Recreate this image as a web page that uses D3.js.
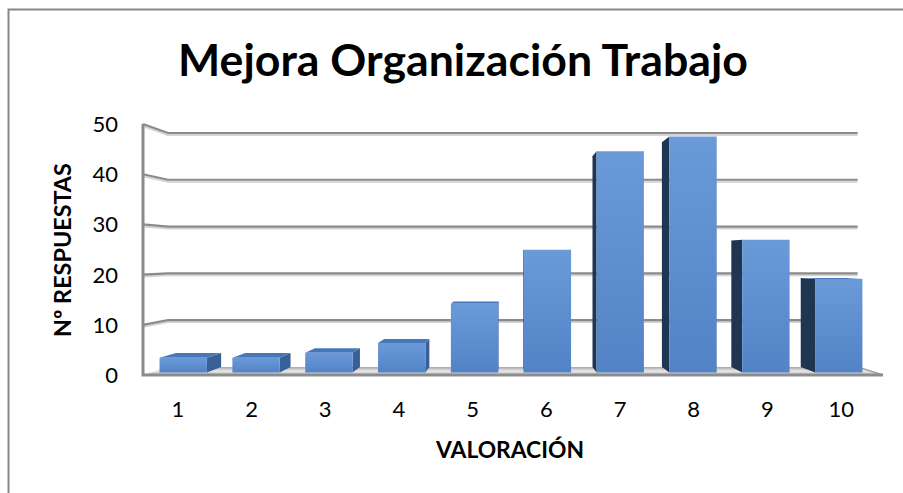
<!DOCTYPE html>
<html>
<head>
<meta charset="utf-8">
<script src="https://cdn.jsdelivr.net/npm/d3@7"></script>
<style>
  body { margin: 0; background: #fff; }
  text { font-family: Lato, "Open Sans", sans-serif; fill: #000; }
</style>
</head>
<body>
<div id="chart"></div>
<script>
// Data
var categories = ["1", "2", "3", "4", "5", "6", "7", "8", "9", "10"];
var respuestas = [3, 3, 4, 6, 14, 25, 45, 48, 27, 19];
var yTicks = [0, 10, 20, 30, 40, 50];

var titleText = "Mejora Organización Trabajo";
var yTitle = "Nº RESPUESTAS";
var xTitle = "VALORACIÓN";

var svgWidth = 903, svgHeight = 493;

var svg = d3.select("#chart").append("svg")
    .attr("width", svgWidth)
    .attr("height", svgHeight);

// front plane of the 3D box
var wallLeft = 143, wallRight = 883;
var yScale = d3.scaleLinear().domain([0, 50]).range([375, 124]);
var xScale = d3.scaleBand().domain(categories)
    .range([139, 883])
    .paddingInner(0.35)
    .paddingOuter(0.175);
// category labels sit on a slightly different band
var labelScale = d3.scaleBand().domain(categories).range([141, 878]);

// simple one-point perspective
var vp = { x: 510, y: 256 };
var depthBack = 0.068, barFront = 0.021, barBack = 0.067;

function proj(x, v, t) {
  var px = x, py = yScale(v);
  return [vp.x + (px - vp.x) * (1 - t), vp.y + (py - vp.y) * (1 - t)];
}
function poly(pts) {
  return "M" + pts.map(function(p) { return p[0] + "," + p[1]; }).join("L") + "Z";
}

var defs = svg.append("defs");
var gFront = defs.append("linearGradient").attr("id", "barFront")
    .attr("x1", 0).attr("y1", 0).attr("x2", 0).attr("y2", 1);
gFront.append("stop").attr("offset", "0%").attr("stop-color", "#6a9ad8");
gFront.append("stop").attr("offset", "100%").attr("stop-color", "#5283c6");

var gFloor = defs.append("linearGradient").attr("id", "floor")
    .attr("x1", 0).attr("y1", 0).attr("x2", 0).attr("y2", 1);
gFloor.append("stop").attr("offset", "0%").attr("stop-color", "#a4a4a4");
gFloor.append("stop").attr("offset", "50%").attr("stop-color", "#e8e8e8");
gFloor.append("stop").attr("offset", "100%").attr("stop-color", "#bdbdbd");

// outer frame
svg.append("path")
    .attr("d", "M8.5,493V9.5H903")
    .attr("fill", "none")
    .attr("stroke", "#878787")
    .attr("stroke-width", 2);

// back wall gridlines
var grid = svg.append("g");
grid.selectAll(".shadow")
    .data(yTicks.filter(function(d) { return d > 0; }))
    .enter().append("path")
    .attr("d", function(d) {
      var a = proj(wallLeft, d, depthBack), b = proj(wallRight, d, depthBack);
      var c = proj(wallLeft, d, 0);
      return "M" + c[0] + "," + (c[1] + 2) + "L" + a[0] + "," + (a[1] + 2) + "L" + b[0] + "," + (b[1] + 2);
    })
    .attr("fill", "none")
    .attr("stroke", "#d4d4d4")
    .attr("stroke-width", 2);
grid.selectAll(".line")
    .data(yTicks.filter(function(d) { return d > 0; }))
    .enter().append("path")
    .attr("d", function(d) {
      var a = proj(wallLeft, d, depthBack), b = proj(wallRight, d, depthBack);
      var c = proj(wallLeft, d, 0);
      return "M" + c[0] + "," + c[1] + "L" + a[0] + "," + a[1] + "L" + b[0] + "," + b[1];
    })
    .attr("fill", "none")
    .attr("stroke", "#8a8a8a")
    .attr("stroke-width", 2.2);

// floor
svg.append("path")
    .attr("d", poly([proj(wallLeft, 0, 0), proj(wallRight, 0, 0),
                     proj(wallRight, 0, depthBack), proj(wallLeft, 0, depthBack)]))
    .attr("fill", "url(#floor)");
svg.append("path")
    .attr("d", poly([proj(wallRight, 0, 0), proj(wallRight, 0, depthBack)]))
    .attr("fill", "none")
    .attr("stroke", "#a0a0a0")
    .attr("stroke-width", 1.5);

// bars
var bars = svg.append("g").selectAll("g")
    .data(respuestas)
    .enter().append("g");

bars.each(function(v, i) {
  var g = d3.select(this);
  var x0 = xScale(categories[i]), x1 = x0 + xScale.bandwidth();
  if (x1 < vp.x) {
    g.append("path")
      .attr("d", poly([proj(x1, 0, barFront), proj(x1, v, barFront), proj(x1, v, barBack), proj(x1, 0, barBack)]))
      .attr("fill", "#375f98");
  } else if (x0 > vp.x) {
    g.append("path")
      .attr("d", poly([proj(x0, 0, barFront), proj(x0, v, barFront), proj(x0, v, barBack), proj(x0, 0, barBack)]))
      .attr("fill", "#1f3552");
  }
  if (yScale(v) > vp.y) {
    g.append("path")
      .attr("d", poly([proj(x0, v, barFront), proj(x1, v, barFront), proj(x1, v, barBack), proj(x0, v, barBack)]))
      .attr("fill", "#4777b8");
  }
  g.append("path")
    .attr("d", poly([proj(x0, 0, barFront), proj(x1, 0, barFront), proj(x1, v, barFront), proj(x0, v, barFront)]))
    .attr("fill", "url(#barFront)");
});

// front axis lines
svg.append("path")
    .attr("d", "M" + wallLeft + "," + yScale(50) + "V" + yScale(0) + "H" + wallRight)
    .attr("fill", "none")
    .attr("stroke", "#8c8c8c")
    .attr("stroke-width", 3);

// y tick labels
svg.append("g").selectAll("text")
    .data(yTicks)
    .enter().append("text")
    .attr("x", 118)
    .attr("y", function(d) { return yScale(d); })
    .attr("dy", "0.36em")
    .attr("text-anchor", "end")
    .attr("font-size", "22px")
    .text(function(d) { return d; });

// x tick labels
svg.append("g").selectAll("text")
    .data(categories)
    .enter().append("text")
    .attr("x", function(d) { return labelScale(d) + labelScale.bandwidth() / 2; })
    .attr("y", 417)
    .attr("text-anchor", "middle")
    .attr("font-size", "22px")
    .text(function(d) { return d; });

// fit text to a target width
function fitWidth(sel, target) {
  var w = sel.node().getComputedTextLength();
  var fs = parseFloat(sel.attr("font-size"));
  sel.attr("font-size", (fs * target / w).toFixed(2) + "px");
}

var title = svg.append("text")
    .attr("x", 463)
    .attr("y", 76)
    .attr("text-anchor", "middle")
    .attr("font-weight", "bold")
    .attr("font-size", "40px")
    .text(titleText);
fitWidth(title, 570);

var yt = svg.append("text")
    .attr("transform", "translate(71,250) rotate(-90)")
    .attr("text-anchor", "middle")
    .attr("font-weight", "bold")
    .attr("font-size", "19px")
    .text(yTitle);
fitWidth(yt, 174);

var xt = svg.append("text")
    .attr("x", 510)
    .attr("y", 458)
    .attr("text-anchor", "middle")
    .attr("font-weight", "bold")
    .attr("font-size", "19px")
    .text(xTitle);
fitWidth(xt, 148);
</script>
</body>
</html>
